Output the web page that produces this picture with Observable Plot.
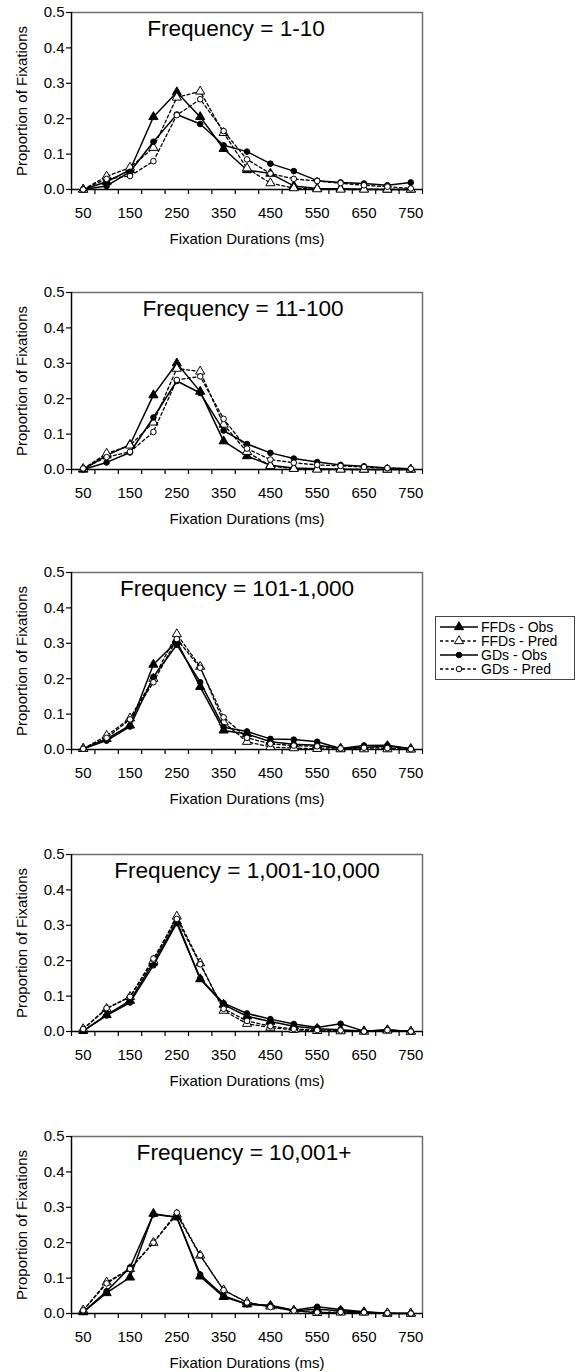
<!DOCTYPE html>
<html><head><meta charset="utf-8">
<script src="https://cdn.jsdelivr.net/npm/d3@7"></script>
<script src="https://cdn.jsdelivr.net/npm/@observablehq/plot@0.6"></script>
<style>
body{margin:0;background:#fff;}
#wrap{position:relative;width:578px;height:1372px;overflow:hidden;background:#fff;font-family:"Liberation Sans",Arial,sans-serif;}
#wrap svg.panel{position:absolute;left:0;}
#legend{position:absolute;left:435px;top:616px;}
</style></head><body><div id="wrap"></div>
<script>
// ---- data ----
const durations = [50, 100, 150, 200, 250, 300, 350, 400, 450, 500, 550, 600, 650, 700, 750];
const durationTicks = [50, 150, 250, 350, 450, 550, 650, 750];
const categoryEdges = [25, 75, 125, 175, 225, 275, 325, 375, 425, 475, 525, 575, 625, 675, 725, 775];
const yTicks = [0, 0.1, 0.2, 0.3, 0.4, 0.5];
const panelTitles = ["Frequency = 1-10", "Frequency = 11-100", "Frequency = 101-1,000", "Frequency = 1,001-10,000", "Frequency = 10,001+"];
const seriesNames = ["FFDs - Obs", "FFDs - Pred", "GDs - Obs", "GDs - Pred"];

const ffdObs1  = [0.000, 0.022, 0.055, 0.205, 0.275, 0.205, 0.115, 0.055, 0.045, 0.010, 0.003, 0.002, 0.001, 0.000, 0.000];
const ffdPred1 = [0.000, 0.037, 0.062, 0.118, 0.260, 0.277, 0.160, 0.060, 0.018, 0.004, 0.001, 0.000, 0.000, 0.000, 0.000];
const gdObs1   = [0.000, 0.010, 0.050, 0.135, 0.212, 0.185, 0.125, 0.107, 0.073, 0.052, 0.025, 0.020, 0.017, 0.012, 0.020];
const gdPred1  = [0.000, 0.030, 0.038, 0.080, 0.210, 0.255, 0.165, 0.085, 0.045, 0.030, 0.024, 0.018, 0.012, 0.008, 0.003];

const ffdObs2  = [0.000, 0.040, 0.070, 0.210, 0.300, 0.220, 0.080, 0.038, 0.012, 0.004, 0.002, 0.001, 0.000, 0.000, 0.000];
const ffdPred2 = [0.002, 0.045, 0.068, 0.133, 0.285, 0.277, 0.127, 0.050, 0.010, 0.002, 0.000, 0.000, 0.000, 0.000, 0.000];
const gdObs2   = [0.000, 0.020, 0.048, 0.147, 0.250, 0.216, 0.110, 0.072, 0.047, 0.031, 0.021, 0.013, 0.009, 0.004, 0.002];
const gdPred2  = [0.003, 0.035, 0.050, 0.106, 0.253, 0.263, 0.143, 0.059, 0.028, 0.019, 0.013, 0.010, 0.007, 0.004, 0.002];

const ffdObs3  = [0.002, 0.030, 0.068, 0.240, 0.305, 0.177, 0.054, 0.044, 0.022, 0.015, 0.012, 0.003, 0.006, 0.010, 0.002];
const ffdPred3 = [0.002, 0.039, 0.088, 0.200, 0.326, 0.234, 0.077, 0.022, 0.007, 0.004, 0.002, 0.001, 0.001, 0.001, 0.000];
const gdObs3   = [0.002, 0.025, 0.065, 0.205, 0.296, 0.190, 0.063, 0.051, 0.030, 0.028, 0.022, 0.003, 0.011, 0.012, 0.002];
const gdPred3  = [0.002, 0.033, 0.085, 0.190, 0.312, 0.231, 0.091, 0.033, 0.016, 0.011, 0.009, 0.003, 0.005, 0.004, 0.001];

const ffdObs4  = [0.002, 0.047, 0.087, 0.195, 0.311, 0.148, 0.076, 0.043, 0.028, 0.015, 0.008, 0.005, 0.001, 0.004, 0.000];
const ffdPred4 = [0.007, 0.064, 0.098, 0.200, 0.325, 0.193, 0.059, 0.022, 0.011, 0.005, 0.002, 0.001, 0.000, 0.003, 0.000];
const gdObs4   = [0.002, 0.045, 0.082, 0.187, 0.306, 0.150, 0.080, 0.051, 0.035, 0.021, 0.011, 0.022, 0.001, 0.005, 0.000];
const gdPred4  = [0.007, 0.066, 0.098, 0.206, 0.318, 0.190, 0.064, 0.030, 0.015, 0.007, 0.004, 0.003, 0.000, 0.004, 0.000];

const ffdObs5  = [0.004, 0.058, 0.102, 0.282, 0.272, 0.105, 0.047, 0.026, 0.022, 0.008, 0.012, 0.008, 0.004, 0.000, 0.000];
const ffdPred5 = [0.009, 0.088, 0.126, 0.200, 0.280, 0.164, 0.066, 0.032, 0.020, 0.008, 0.002, 0.003, 0.003, 0.001, 0.000];
const gdObs5   = [0.004, 0.063, 0.130, 0.280, 0.272, 0.110, 0.050, 0.026, 0.023, 0.009, 0.019, 0.011, 0.005, 0.001, 0.000];
const gdPred5  = [0.009, 0.085, 0.126, 0.200, 0.285, 0.165, 0.066, 0.031, 0.018, 0.008, 0.003, 0.004, 0.003, 0.001, 0.000];

const panels = [
  [ffdObs1, ffdPred1, gdObs1, gdPred1],
  [ffdObs2, ffdPred2, gdObs2, gdPred2],
  [ffdObs3, ffdPred3, gdObs3, gdPred3],
  [ffdObs4, ffdPred4, gdObs4, gdPred4],
  [ffdObs5, ffdPred5, gdObs5, gdPred5]
];

// ---- layout & styles ----
const FONT = "'Liberation Sans', Arial, sans-serif";
const seriesStyle = [
  {dash: null, symbol: "triangle", fill: "black", r: 3.4, width: 1.5},
  {dash: "3,2.5", symbol: "triangle", fill: "white", r: 3.4, width: 1.3},
  {dash: null, symbol: "circle", fill: "black", r: 2.8, width: 1.5},
  {dash: "3,2.5", symbol: "circle", fill: "white", r: 2.8, width: 1.3}
];
const panelTops = [0, 280, 560, 842, 1124];
const titleShift = [-11, -4, -10, 0, -3];

const wrap = document.getElementById("wrap");

panels.forEach((series, p) => {
  const marks = [
    Plot.ruleY([0.5], {stroke: "#6e6e6e", strokeWidth: 1.5}),
    Plot.ruleX([775], {stroke: "#6e6e6e", strokeWidth: 1.5}),
    Plot.axisY({ticks: yTicks, tickFormat: d3.format(".1f"), tickSize: 5, tickPadding: 2, label: null, fontSize: 15, strokeWidth: 1.2}),
    Plot.axisX({ticks: durationTicks, tickSize: 0, tickPadding: 18, label: null, fontSize: 15}),
    Plot.axisX({ticks: categoryEdges, tickSize: 5, tickFormat: () => "", label: null, strokeWidth: 1.2}),
    Plot.ruleX([25], {stroke: "black", strokeWidth: 1.5}),
    Plot.ruleY([0], {stroke: "black", strokeWidth: 1.5})
  ];
  series.forEach((vals, s) => {
    const st = seriesStyle[s];
    const rows = durations.map((d, i) => ({duration: d, value: vals[i]}));
    marks.push(Plot.line(rows, {x: "duration", y: "value", stroke: "black", strokeWidth: st.width, strokeDasharray: st.dash}));
    marks.push(Plot.dot(rows, {x: "duration", y: "value", symbol: () => st.symbol, r: st.r, fill: st.fill, stroke: "black", strokeWidth: 1}));
  });
  marks.push(Plot.text([panelTitles[p]], {text: d => d, frameAnchor: "top", dy: 16, dx: titleShift[p], fontSize: 22.6, textAnchor: "middle", lineAnchor: "middle", fill: "black"}));
  marks.push(Plot.text(["Proportion of Fixations"], {text: d => d, frameAnchor: "left", rotate: -90, dx: -49, fontSize: 15, textAnchor: "middle", lineAnchor: "middle", fill: "black"}));
  marks.push(Plot.text(["Fixation Durations (ms)"], {text: d => d, frameAnchor: "bottom", dy: 50, fontSize: 15, textAnchor: "middle", lineAnchor: "middle", fill: "black"}));

  const chart = Plot.plot({
    width: 578, height: 252,
    marginLeft: 71, marginRight: 156, marginTop: 12, marginBottom: 63,
    x: {domain: [25, 775]},
    y: {domain: [0, 0.5]},
    symbol: {type: "identity"},
    style: {fontFamily: FONT, fontSize: "15px", background: "transparent", color: "black", overflow: "visible"},
    marks
  });
  chart.classList.add("panel");
  chart.style.top = panelTops[p] + "px";
  wrap.appendChild(chart);
});

// ---- legend ----
const lw = 140, lh = 64;
const leg = d3.create("svg").attr("id", "legend").attr("width", lw).attr("height", lh)
  .style("font-family", FONT);
leg.append("rect").attr("x", 0.5).attr("y", 0.5).attr("width", lw - 1).attr("height", lh - 1)
  .attr("fill", "white").attr("stroke", "#444").attr("stroke-width", 1);
seriesNames.forEach((name, i) => {
  const st = seriesStyle[i];
  const y = 11 + i * 14;
  leg.append("line").attr("x1", 5).attr("x2", 43).attr("y1", y).attr("y2", y)
    .attr("stroke", "black").attr("stroke-width", st.width).attr("stroke-dasharray", st.dash);
  const sym = st.symbol === "triangle" ? d3.symbolTriangle : d3.symbolCircle;
  leg.append("path").attr("d", d3.symbol(sym, Math.PI * st.r * st.r)())
    .attr("transform", `translate(24,${y})`).attr("fill", st.fill).attr("stroke", "black").attr("stroke-width", 1);
  leg.append("text").attr("x", 46).attr("y", y).attr("dy", "0.36em").attr("font-size", 14).attr("fill", "black").text(name);
});
wrap.appendChild(leg.node());
</script>
</body></html>
